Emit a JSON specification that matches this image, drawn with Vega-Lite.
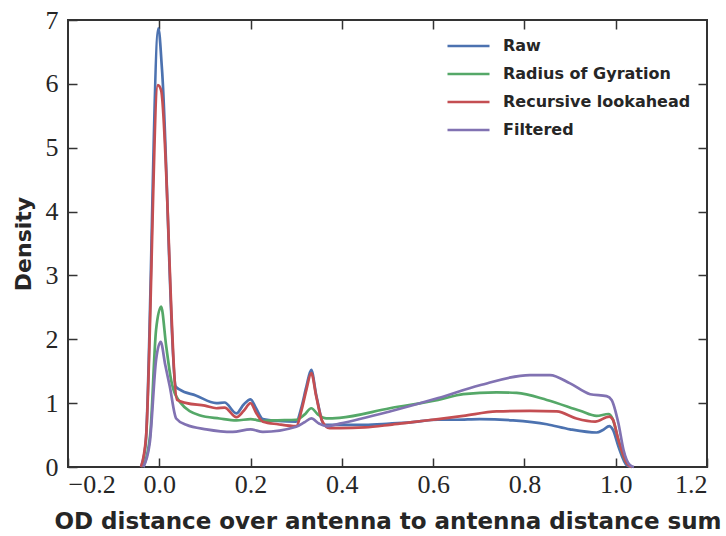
{
  "$schema": "https://vega.github.io/schema/vega-lite/v6.json",
  "width": 639,
  "height": 447,
  "autosize": {"type": "none"},
  "padding": {"left": 68, "top": 20, "right": 19, "bottom": 69},
  "background": "white",
  "config": {
    "view": {"stroke": "#333333", "strokeWidth": 2},
    "axis": {"grid": false, "domain": false, "tickColor": "#333333", "tickWidth": 1.5, "tickSize": -9, "labelFont": "Liberation Serif", "labelFontSize": 26, "labelColor": "#262626", "titleFont": "DejaVu Sans", "titleFontWeight": "bold", "titleFontSize": 23, "titleColor": "#262626"},
    "legend": {"labelFont": "DejaVu Sans", "labelFontWeight": "bold", "labelFontSize": 16, "labelColor": "#262626", "labelLimit": 400}
  },
  "data": {"values": [
    {"s":"Raw","x":-0.04,"y":0},{"s":"Raw","x":-0.03,"y":0.35},{"s":"Raw","x":-0.002,"y":6.87},{"s":"Raw","x":0.006,"y":6.22},{"s":"Raw","x":0.036,"y":1.26},{"s":"Raw","x":0.045,"y":1.21},{"s":"Raw","x":0.08,"y":1.12},{"s":"Raw","x":0.125,"y":1.0},{"s":"Raw","x":0.143,"y":1.01},{"s":"Raw","x":0.169,"y":0.84},{"s":"Raw","x":0.185,"y":0.98},{"s":"Raw","x":0.2,"y":1.06},{"s":"Raw","x":0.212,"y":0.92},{"s":"Raw","x":0.227,"y":0.75},{"s":"Raw","x":0.26,"y":0.72},{"s":"Raw","x":0.3,"y":0.71},{"s":"Raw","x":0.312,"y":0.95},{"s":"Raw","x":0.322,"y":1.25},{"s":"Raw","x":0.333,"y":1.52},{"s":"Raw","x":0.344,"y":1.12},{"s":"Raw","x":0.362,"y":0.66},{"s":"Raw","x":0.395,"y":0.66},{"s":"Raw","x":0.45,"y":0.66},{"s":"Raw","x":0.505,"y":0.68},{"s":"Raw","x":0.55,"y":0.7},{"s":"Raw","x":0.611,"y":0.74},{"s":"Raw","x":0.65,"y":0.74},{"s":"Raw","x":0.702,"y":0.75},{"s":"Raw","x":0.775,"y":0.73},{"s":"Raw","x":0.849,"y":0.67},{"s":"Raw","x":0.9,"y":0.59},{"s":"Raw","x":0.958,"y":0.54},{"s":"Raw","x":0.972,"y":0.58},{"s":"Raw","x":0.986,"y":0.64},{"s":"Raw","x":0.994,"y":0.58},{"s":"Raw","x":1.006,"y":0.32},{"s":"Raw","x":1.024,"y":0.03},{"s":"Raw","x":1.035,"y":0},
    {"s":"Radius of Gyration","x":-0.035,"y":0},{"s":"Radius of Gyration","x":-0.02,"y":0.5},{"s":"Radius of Gyration","x":-0.007,"y":2.15},{"s":"Radius of Gyration","x":0.004,"y":2.51},{"s":"Radius of Gyration","x":0.015,"y":1.9},{"s":"Radius of Gyration","x":0.026,"y":1.36},{"s":"Radius of Gyration","x":0.045,"y":1.02},{"s":"Radius of Gyration","x":0.088,"y":0.81},{"s":"Radius of Gyration","x":0.132,"y":0.76},{"s":"Radius of Gyration","x":0.169,"y":0.73},{"s":"Radius of Gyration","x":0.2,"y":0.75},{"s":"Radius of Gyration","x":0.227,"y":0.72},{"s":"Radius of Gyration","x":0.249,"y":0.73},{"s":"Radius of Gyration","x":0.3,"y":0.74},{"s":"Radius of Gyration","x":0.318,"y":0.82},{"s":"Radius of Gyration","x":0.333,"y":0.92},{"s":"Radius of Gyration","x":0.348,"y":0.82},{"s":"Radius of Gyration","x":0.366,"y":0.76},{"s":"Radius of Gyration","x":0.395,"y":0.77},{"s":"Radius of Gyration","x":0.505,"y":0.92},{"s":"Radius of Gyration","x":0.611,"y":1.05},{"s":"Radius of Gyration","x":0.666,"y":1.14},{"s":"Radius of Gyration","x":0.739,"y":1.17},{"s":"Radius of Gyration","x":0.783,"y":1.16},{"s":"Radius of Gyration","x":0.849,"y":1.05},{"s":"Radius of Gyration","x":0.922,"y":0.88},{"s":"Radius of Gyration","x":0.958,"y":0.8},{"s":"Radius of Gyration","x":0.984,"y":0.83},{"s":"Radius of Gyration","x":0.993,"y":0.76},{"s":"Radius of Gyration","x":1.006,"y":0.42},{"s":"Radius of Gyration","x":1.02,"y":0.11},{"s":"Radius of Gyration","x":1.035,"y":0},
    {"s":"Recursive lookahead","x":-0.04,"y":0},{"s":"Recursive lookahead","x":-0.029,"y":0.47},{"s":"Recursive lookahead","x":-0.003,"y":5.98},{"s":"Recursive lookahead","x":0.004,"y":5.9},{"s":"Recursive lookahead","x":0.039,"y":1.05},{"s":"Recursive lookahead","x":0.06,"y":1.0},{"s":"Recursive lookahead","x":0.1,"y":0.96},{"s":"Recursive lookahead","x":0.125,"y":0.92},{"s":"Recursive lookahead","x":0.143,"y":0.93},{"s":"Recursive lookahead","x":0.169,"y":0.78},{"s":"Recursive lookahead","x":0.185,"y":0.88},{"s":"Recursive lookahead","x":0.2,"y":1.0},{"s":"Recursive lookahead","x":0.212,"y":0.85},{"s":"Recursive lookahead","x":0.227,"y":0.71},{"s":"Recursive lookahead","x":0.26,"y":0.67},{"s":"Recursive lookahead","x":0.3,"y":0.64},{"s":"Recursive lookahead","x":0.312,"y":0.9},{"s":"Recursive lookahead","x":0.322,"y":1.2},{"s":"Recursive lookahead","x":0.333,"y":1.47},{"s":"Recursive lookahead","x":0.344,"y":1.1},{"s":"Recursive lookahead","x":0.357,"y":0.72},{"s":"Recursive lookahead","x":0.373,"y":0.61},{"s":"Recursive lookahead","x":0.395,"y":0.61},{"s":"Recursive lookahead","x":0.45,"y":0.62},{"s":"Recursive lookahead","x":0.505,"y":0.66},{"s":"Recursive lookahead","x":0.55,"y":0.7},{"s":"Recursive lookahead","x":0.611,"y":0.75},{"s":"Recursive lookahead","x":0.666,"y":0.8},{"s":"Recursive lookahead","x":0.739,"y":0.87},{"s":"Recursive lookahead","x":0.812,"y":0.88},{"s":"Recursive lookahead","x":0.871,"y":0.87},{"s":"Recursive lookahead","x":0.914,"y":0.76},{"s":"Recursive lookahead","x":0.955,"y":0.71},{"s":"Recursive lookahead","x":0.986,"y":0.79},{"s":"Recursive lookahead","x":0.994,"y":0.74},{"s":"Recursive lookahead","x":1.006,"y":0.42},{"s":"Recursive lookahead","x":1.024,"y":0.06},{"s":"Recursive lookahead","x":1.035,"y":0},
    {"s":"Filtered","x":-0.035,"y":0},{"s":"Filtered","x":-0.021,"y":0.37},{"s":"Filtered","x":-0.007,"y":1.68},{"s":"Filtered","x":0.003,"y":1.96},{"s":"Filtered","x":0.013,"y":1.6},{"s":"Filtered","x":0.023,"y":1.26},{"s":"Filtered","x":0.037,"y":0.76},{"s":"Filtered","x":0.059,"y":0.66},{"s":"Filtered","x":0.103,"y":0.59},{"s":"Filtered","x":0.161,"y":0.55},{"s":"Filtered","x":0.2,"y":0.59},{"s":"Filtered","x":0.227,"y":0.55},{"s":"Filtered","x":0.3,"y":0.63},{"s":"Filtered","x":0.318,"y":0.7},{"s":"Filtered","x":0.333,"y":0.76},{"s":"Filtered","x":0.35,"y":0.68},{"s":"Filtered","x":0.366,"y":0.64},{"s":"Filtered","x":0.395,"y":0.68},{"s":"Filtered","x":0.505,"y":0.87},{"s":"Filtered","x":0.611,"y":1.08},{"s":"Filtered","x":0.702,"y":1.28},{"s":"Filtered","x":0.812,"y":1.44},{"s":"Filtered","x":0.856,"y":1.44},{"s":"Filtered","x":0.9,"y":1.31},{"s":"Filtered","x":0.944,"y":1.14},{"s":"Filtered","x":0.98,"y":1.11},{"s":"Filtered","x":0.991,"y":1.05},{"s":"Filtered","x":1.006,"y":0.68},{"s":"Filtered","x":1.017,"y":0.27},{"s":"Filtered","x":1.031,"y":0.03},{"s":"Filtered","x":1.04,"y":0}
  ]},
  "layer": [
    {
      "mark": {"type": "line", "interpolate": "monotone", "strokeWidth": 2.7},
      "encoding": {
        "x": {"field": "x", "type": "quantitative", "scale": {"domain": [-0.2, 1.2], "nice": false}, "axis": {"values": [-0.2, 0, 0.2, 0.4, 0.6, 0.8, 1.0, 1.2], "format": ".1f", "labelPadding": 13, "title": "OD distance over antenna to antenna distance sum", "titlePadding": 13}},
        "y": {"field": "y", "type": "quantitative", "scale": {"domain": [0, 7], "nice": false}, "axis": {"values": [0, 1, 2, 3, 4, 5, 6, 7], "labelPadding": 19, "title": "Density", "titleFontSize": 22, "titlePadding": 10}},
        "color": {"field": "s", "type": "nominal", "sort": ["Raw", "Radius of Gyration", "Recursive lookahead", "Filtered"], "scale": {"domain": ["Raw", "Radius of Gyration", "Recursive lookahead", "Filtered"], "range": ["#4C72B0", "#55A868", "#C44E52", "#8172B2"]}, "legend": {"title": null, "orient": "none", "legendX": 378, "legendY": 13, "symbolType": "stroke", "symbolSize": 1764, "symbolStrokeWidth": 2.5, "clipHeight": 26, "rowPadding": 2, "labelOffset": 12}}
      }
    },
    {
      "mark": {"type": "line", "opacity": 0},
      "encoding": {
        "x": {"field": "x", "type": "quantitative", "axis": {"orient": "top", "values": [0, 0.2, 0.4, 0.6, 0.8, 1.0], "labels": false, "title": null}},
        "y": {"field": "y", "type": "quantitative", "axis": {"orient": "right", "values": [1, 2, 3, 4, 5, 6], "labels": false, "title": null}},
        "detail": {"field": "s"}
      }
    }
  ],
  "resolve": {"axis": {"x": "independent", "y": "independent"}}
}
